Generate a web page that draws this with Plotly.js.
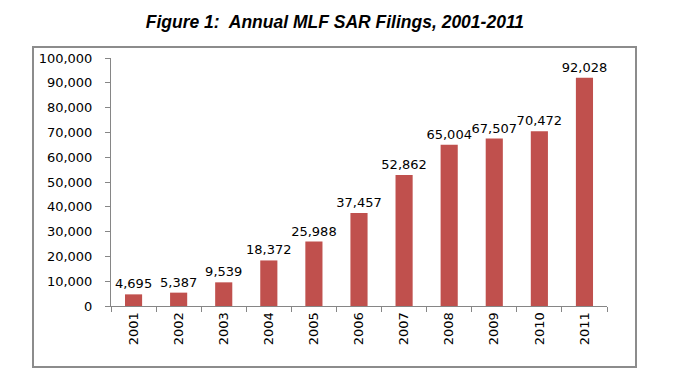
<!DOCTYPE html>
<html>
<head>
<meta charset="utf-8">
<script src="https://cdn.plot.ly/plotly-3.0.1.min.js"></script>
<style>html,body{margin:0;padding:0;background:#fff;}#chart{width:678px;height:392px;}</style>
</head>
<body>
<div id="chart"></div>
<script>
var years = ["2001","2002","2003","2004","2005","2006","2007","2008","2009","2010","2011"];
var filings = [4695, 5387, 9539, 18372, 25988, 37457, 52862, 65004, 67507, 70472, 92028];
var yTickVals = [0,10000,20000,30000,40000,50000,60000,70000,80000,90000,100000];
var chartTitle = "Figure 1:  Annual MLF SAR Filings, 2001-2011";

var labels = filings.map(function(v){ return v.toLocaleString("en-US"); });

var trace = {
  type: "bar",
  x: years,
  y: filings,
  marker: {color: "#C0504D"},
  text: labels,
  textposition: "outside",
  constraintext: "none",
  textfont: {family: "DejaVu Sans", size: 13, color: "#000"},
  cliponaxis: false,
  hoverinfo: "none"
};

var layout = {
  width: 678, height: 392,
  margin: {l: 111, r: 71, t: 58, b: 86},
  paper_bgcolor: "#fff", plot_bgcolor: "#fff",
  showlegend: false,
  bargap: 0.62,
  title: {
    text: chartTitle,
    font: {family: "Liberation Sans", size: 17.5, weight: "bold", style: "italic", color: "#000"},
    x: 0.494, xanchor: "center", y: 0.944, yanchor: "middle"
  },
  xaxis: {
    type: "category",
    showline: true, linecolor: "#868686", linewidth: 1,
    ticks: "outside", tickson: "boundaries", ticklen: 5, tickcolor: "#868686",
    tickangle: -90,
    tickfont: {family: "DejaVu Sans", size: 13, color: "#000"},
    showgrid: false, zeroline: false
  },
  yaxis: {
    range: [0, 100000],
    tickvals: yTickVals,
    tickformat: ",",
    showline: true, linecolor: "#868686", linewidth: 1,
    ticks: "outside", ticklen: 5, tickcolor: "#868686",
    ticklabelstandoff: 10,
    tickfont: {family: "DejaVu Sans", size: 13, color: "#000"},
    showgrid: false, zeroline: false
  },
  shapes: [{
    type: "rect", xref: "paper", yref: "paper",
    x0: (33-111)/496, x1: (636-111)/496,
    y0: (306-367)/248, y1: (306-47)/248,
    line: {color: "#8C8C8C", width: 2}
  }]
};

Plotly.newPlot("chart", [trace], layout, {staticPlot: true, displayModeBar: false});
</script>
</body>
</html>
